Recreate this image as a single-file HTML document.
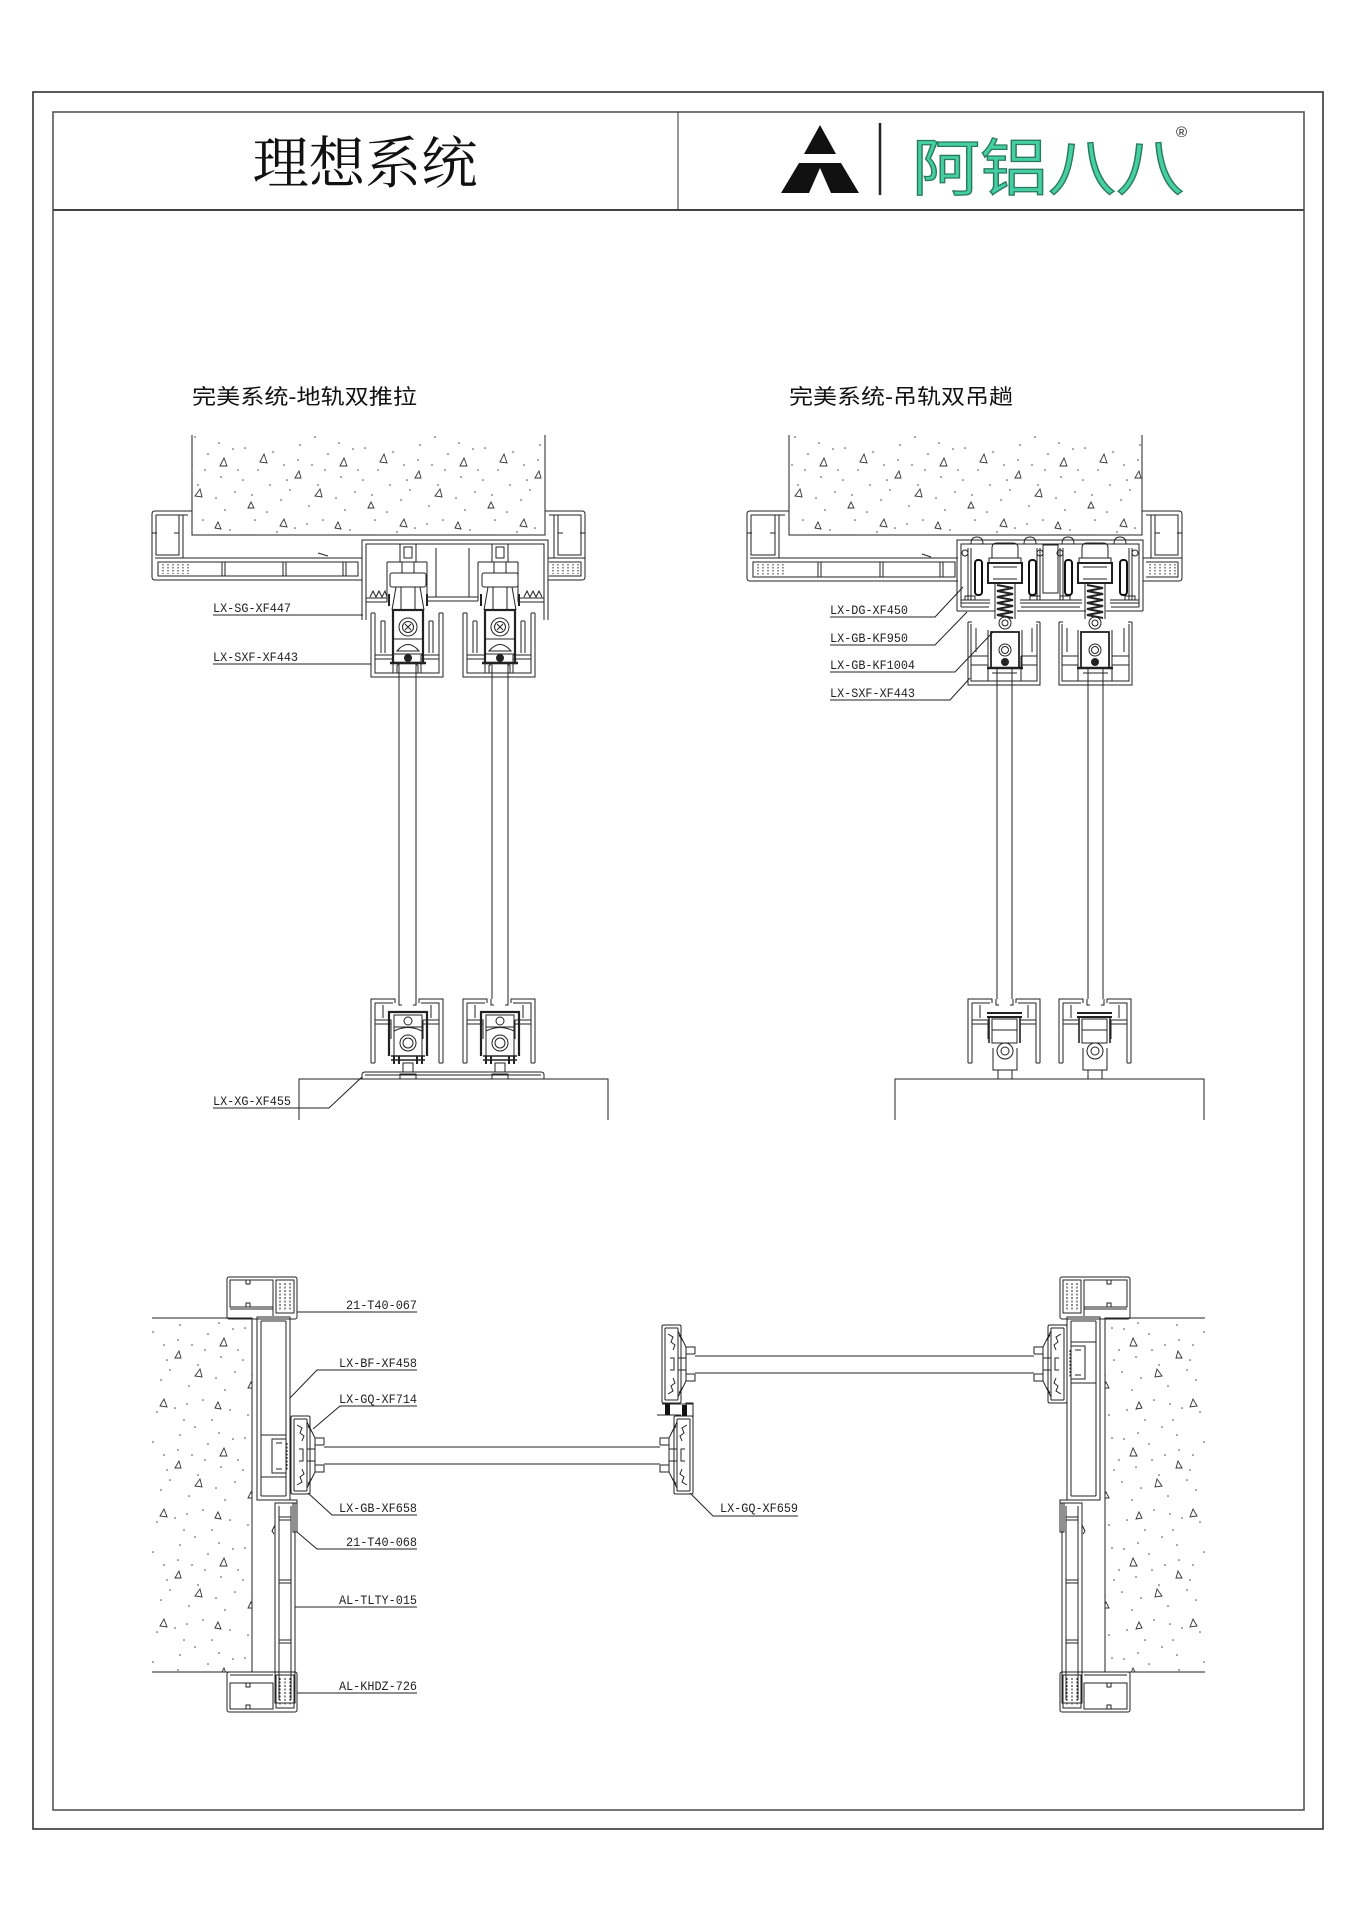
<!DOCTYPE html>
<html><head><meta charset="utf-8">
<style>
html,body{margin:0;padding:0;background:#fff;}
svg{display:block;}
.lb{font-family:"Liberation Mono",monospace;font-size:12.5px;fill:#222;}
.tt{font-family:"Liberation Sans","Noto Sans CJK SC",sans-serif;font-size:21px;fill:#111;}
</style></head>
<body>
<svg width="1357" height="1920" viewBox="0 0 1357 1920" xmlns="http://www.w3.org/2000/svg">
<defs>
<pattern id="hatch" width="120" height="110" patternUnits="userSpaceOnUse">
 <g fill="#444">
  <circle cx="5" cy="8" r="0.8"/><circle cx="18" cy="30" r="0.8"/><circle cx="33" cy="12" r="0.8"/>
  <circle cx="47" cy="40" r="0.8"/><circle cx="60" cy="5" r="0.8"/><circle cx="72" cy="25" r="0.8"/>
  <circle cx="88" cy="14" r="0.8"/><circle cx="101" cy="37" r="0.8"/><circle cx="113" cy="9" r="0.8"/>
  <circle cx="12" cy="55" r="0.8"/><circle cx="27" cy="72" r="0.8"/><circle cx="41" cy="60" r="0.8"/>
  <circle cx="55" cy="88" r="0.8"/><circle cx="69" cy="66" r="0.8"/><circle cx="83" cy="80" r="0.8"/>
  <circle cx="96" cy="58" r="0.8"/><circle cx="110" cy="90" r="0.8"/><circle cx="8" cy="95" r="0.8"/>
  <circle cx="22" cy="104" r="0.8"/><circle cx="37" cy="92" r="0.8"/><circle cx="50" cy="50" r="0.8"/>
  <circle cx="64" cy="100" r="0.8"/><circle cx="78" cy="45" r="0.8"/><circle cx="92" cy="100" r="0.8"/>
  <circle cx="105" cy="70" r="0.8"/><circle cx="115" cy="52" r="0.8"/><circle cx="30" cy="45" r="0.8"/>
  <circle cx="85" cy="30" r="0.8"/><circle cx="58" cy="20" r="0.8"/><circle cx="15" cy="80" r="0.8"/>
  <circle cx="3" cy="40" r="0.8"/><circle cx="44" cy="25" r="0.8"/><circle cx="67" cy="84" r="0.8"/>
  <circle cx="118" cy="30" r="0.8"/><circle cx="75" cy="107" r="0.8"/><circle cx="99" cy="3" r="0.8"/>
 </g>
 <g fill="none" stroke="#333" stroke-width="0.9">
  <path d="M20,22 l4,-8 l3,9 z"/><path d="M75,56 l5,-7 l2,8 z"/><path d="M40,86 l4,-7 l3,8 z"/>
  <path d="M100,26 l4,-8 l3,8 z"/><path d="M95,88 l3,-6 l3,7 z"/><path d="M55,38 l4,-7 l2,7 z"/>
  <path d="M8,68 l3,-6 l3,6 z"/>
 </g>
</pattern>

<g id="tlr" fill="none" stroke="#222" stroke-width="1">
 <rect x="-8" y="544" width="16" height="18"/>
 <rect x="-4" y="547" width="8" height="11"/>
 <rect x="-18" y="573" width="36" height="14" rx="2"/>
 <path d="M-6,562 V573 M6,562 V573"/>
 <path d="M-12,587 L-16,610 M12,587 L16,610 M-7,587 V610 M7,587 V610"/>
 <path d="M-19,594 V606 M19,594 V606" stroke-width="2"/>
 <rect x="-15" y="610" width="30" height="53" stroke-width="2.2"/>
 <circle cx="0" cy="627" r="9"/>
 <circle cx="0" cy="627" r="5.5"/>
 <path d="M-3,624 L3,630 M3,624 L-3,630"/>
 <path d="M-15,639 H15"/>
 <path d="M-11,651 Q0,638 11,651 Z"/>
 <path d="M-15,654 H15"/>
 <circle cx="0" cy="658" r="3.5" fill="#222"/>
 <path d="M-18,663 H18" stroke-width="2.5"/>
</g>

<g id="sxf" fill="none" stroke="#222" stroke-width="1">
 <path d="M0,0 V64 H72 V0 M4,0 V60 H68 V0 M0,0 H4 M68,0 H72"/>
 <path d="M4,42 H22 M50,42 H68 M4,46 H22 M50,46 H68"/>
 <path d="M10,8 V40 M14,8 V40 M10,8 H14 M58,8 V40 M62,8 V40 M58,8 H62"/>
 <path d="M22,42 V60 M50,42 V60"/>
 <path d="M26,52 H28 M45,52 H47 M26,52 V60 M47,52 V60"/>
</g>

<g id="sbf" fill="none" stroke="#222" stroke-width="1">
 <path d="M0,64 V0 H24 V4 M4,64 V4 H22 M72,64 V0 H48 V4 M68,64 V4 H50"/>
 <path d="M4,21 H20 V25 H4 M52,21 H68 M52,25 H68 M52,21 V25"/>
 <path d="M12,6 V19 M60,6 V19"/>
 <path d="M28,0 V6 H31 M45,0 V6 H42"/>
 <path d="M20,25 V40 M52,25 V40"/>
 <path d="M0,64 H4 M68,64 H72"/>
</g>

<g id="blr" fill="none" stroke="#222" stroke-width="1">
 <path d="M-19,1056 V1012 H19 V1056" stroke-width="2.2"/>
 <rect x="-14" y="1015" width="28" height="12"/>
 <circle cx="0" cy="1021" r="4"/>
 <path d="M-14,1031 Q0,1024 14,1031"/>
 <path d="M-14,1027 V1056 M14,1027 V1056"/>
 <circle cx="0" cy="1043" r="8"/><circle cx="0" cy="1043" r="5"/>
 <path d="M-17,1056 H17 M-17,1060 H17" stroke-width="1.6"/>
 <path d="M-14,1056 v8 M-9,1056 v8 M9,1056 v8 M14,1056 v8" stroke-width="2"/>
 <rect x="-5" y="1063" width="10" height="9"/>
</g>

<g id="hgt" fill="none" stroke="#222" stroke-width="1">
 <path d="M-13,558 V548 Q-13,543 -8,543 H8 Q13,543 13,548 V558 Z"/>
 <rect x="-16" y="558" width="32" height="5"/>
 <rect x="-17" y="563" width="34" height="20" stroke-width="2"/>
 <path d="M-12,567 H12 M-12,579 H12"/>
 <path d="M-8,585 L8,588 L-8,591 L8,594 L-8,597 L8,600 L-8,603 L8,606 L-8,609 L8,612 L-8,615 L8,618" stroke-width="2"/>
 <path d="M-10,583 V619 M10,583 V619"/>
 <circle cx="0" cy="623" r="6"/><circle cx="0" cy="623" r="3"/>
 <rect x="-14" y="632" width="28" height="36" stroke-width="1.8"/>
 <path d="M-17,630 V668 M17,630 V668"/>
 <circle cx="0" cy="650" r="6"/><circle cx="0" cy="650" r="3.5"/>
 <circle cx="0" cy="662" r="3.5" fill="#222"/>
 <path d="M-18,668 H18" stroke-width="2.5"/>
</g>

<g id="bhr" fill="none" stroke="#222" stroke-width="1">
 <path d="M-18,1013 H17 M-18,1017 H17" stroke-width="2"/>
 <path d="M-16,1017 V1043 M15,1017 V1043" stroke-width="1.6"/>
 <rect x="-13" y="1019" width="25" height="24"/>
 <path d="M-13,1030 H12"/>
 <circle cx="0" cy="1051" r="8"/><circle cx="0" cy="1051" r="4"/>
 <path d="M-12,1048 V1070 H12 V1048"/>
 <rect x="-7" y="1070" width="14" height="9"/>
</g>

<g id="gq" fill="none" stroke="#222" stroke-width="1">
 <rect x="0" y="0" width="19" height="78" rx="1.5"/>
 <path d="M3,3 V75 M16,3 V75 M3,3 H16 M3,75 H16"/>
 <path d="M16,6 L24,22 V29 M16,72 L24,56 V49"/>
 <path d="M24,22 H33 V29 M24,56 H33 V49 M24,29 H33 M24,49 H33"/>
 <path d="M16,33 H24 M16,45 H24 M24,29 V49"/>
 <path d="M6,9 l5,3 l-2,5 l4,3 l-2,5 M6,69 l5,-3 l-2,-5 l4,-3 l-2,-5"/>
 <path d="M8,33 H12 V45 H8"/>
 <path d="M17,10 l3,5 M17,68 l3,-5"/>
</g>
</defs>

<!-- ========== FRAME & HEADER ========== -->
<g fill="none">
 <rect x="33" y="92" width="1290" height="1737" stroke="#333" stroke-width="1.6"/>
 <rect x="53" y="112" width="1251" height="1698" stroke="#555" stroke-width="1.6"/>
 <path d="M53,210 H1304" stroke="#444" stroke-width="2"/>
 <path d="M678,112 V210" stroke="#333" stroke-width="1"/>
</g>
<text x="365" y="183" text-anchor="middle" textLength="225" lengthAdjust="spacingAndGlyphs" style="font-family:'Liberation Serif','Noto Serif CJK SC',serif;font-size:56px;fill:#111;">理想系统</text>
<!-- logo -->
<polygon points="820,125 836,154 804,154" fill="#111"/>
<polygon points="799,163 841,163 859,193 831,193 820,168 809,193 781,193" fill="#111"/>
<path d="M880,123 V195" stroke="#222" stroke-width="2.5"/>
<text x="912" y="190" textLength="272" lengthAdjust="spacingAndGlyphs" style="font-family:'Liberation Sans','Noto Sans CJK SC',sans-serif;font-weight:400;font-size:62px;fill:#45cfa3;stroke:#2a7a5e;stroke-width:1.3;">阿铝八八</text>
<text x="1176" y="137" style="font-family:'Liberation Sans',sans-serif;font-size:15px;fill:#222;">®</text>

<!-- ========== SECTION TITLES ========== -->
<text class="tt" x="192" y="404" textLength="225" lengthAdjust="spacingAndGlyphs">完美系统-地轨双推拉</text>
<text class="tt" x="789" y="404" textLength="224" lengthAdjust="spacingAndGlyphs">完美系统-吊轨双吊趟</text>

<!-- ========== TOP-LEFT DIAGRAM ========== -->
<g fill="none" stroke="#222" stroke-width="1">
 <rect x="192" y="435" width="353" height="100" fill="url(#hatch)" stroke="none"/>
 <path d="M192,435 V535 H545 V435"/>
 <path d="M192,511 H155 Q152,511 152,514 V577 Q152,580 155,580 H362"/>
 <path d="M156,515 H188 M156,515 V555 H179 V515 M183,515 V558"/>
 <path d="M152,533 H157 M174,533 H179"/>
 <path d="M155,558 H362 M158,562 H358 V576 H158 Z"/>
 <path d="M222,562 V576 M225,562 V576 M283,562 V576 M286,562 V576 M343,562 V576 M346,562 V576"/>
 <path d="M163,564 V574 M168,564 V574 M173,564 V574 M178,564 V574 M183,564 V574 M188,564 V574" stroke-dasharray="1.5,1.5"/>
 <path d="M318,553 l10,3"/>
 <path d="M545,511 H582 Q585,511 585,514 V577 Q585,580 582,580 H548"/>
 <path d="M549,515 H581 V555 H558 V515 M554,515 V558"/>
 <path d="M580,533 H585 M558,533 H563"/>
 <path d="M548,558 H585 M549,562 H581 V576 H549"/>
 <path d="M553,564 V574 M558,564 V574 M563,564 V574 M568,564 V574 M573,564 V574 M578,564 V574" stroke-dasharray="1.5,1.5"/>
 <path d="M362,620 V540 H548 V620 M366,620 V544 H544 V620"/>
 <path d="M366,598 H387 M366,602 H387 M427,597 H478 M427,601 H478 M518,598 H544 M518,602 H544"/>
 <path d="M387,562 V602 M427,562 V601 M478,562 V601 M518,562 V602"/>
 <path d="M387,562 H400 M416,562 H427 M478,562 H492 M508,562 H518"/>
 <path d="M370,597 l3,-6 l3,6 l3,-6 l3,6 l3,-6 l2,6 M524,597 l3,-6 l3,6 l3,-6 l3,6 l3,-6 l3,6"/>
 <path d="M436,548 V597 M469,548 V597"/>
</g>
<use href="#tlr" transform="translate(408,0)"/>
<use href="#tlr" transform="translate(500,0)"/>
<use href="#sxf" x="371" y="613"/>
<use href="#sxf" x="463" y="613"/>
<g fill="none" stroke="#222" stroke-width="1">
 <path d="M399,663 V999 M416,663 V999 M492,663 V999 M508,663 V999"/>
 <path d="M394,673 H421 M486,673 H513"/>
</g>
<use href="#sbf" x="371" y="999"/>
<use href="#sbf" x="463" y="999"/>
<use href="#blr" transform="translate(408,0)"/>
<use href="#blr" transform="translate(500,0)"/>
<g fill="none" stroke="#222" stroke-width="1">
 <path d="M365,1072 H541 Q544,1072 544,1075 V1079 M362,1079 V1075 Q362,1072 365,1072 M365,1075 H541"/>
 <rect x="400" y="1074" width="16" height="5"/>
 <rect x="492" y="1074" width="16" height="5"/>
 <path d="M299,1120 V1079 H608 V1120"/>
</g>
<g fill="none" stroke="#222" stroke-width="1">
 <path d="M213,615 H363"/>
 <path d="M213,664 H371"/>
 <path d="M213,1108 H329 L362,1077"/>
</g>
<text class="lb" x="213" y="612" textLength="78" lengthAdjust="spacingAndGlyphs">LX-SG-XF447</text>
<text class="lb" x="213" y="661" textLength="85" lengthAdjust="spacingAndGlyphs">LX-SXF-XF443</text>
<text class="lb" x="213" y="1105" textLength="78" lengthAdjust="spacingAndGlyphs">LX-XG-XF455</text>

<!-- ========== TOP-RIGHT DIAGRAM ========== -->
<g fill="none" stroke="#222" stroke-width="1">
 <rect x="789" y="435" width="353" height="100" fill="url(#hatch)" stroke="none"/>
 <path d="M789,435 V535 H1142 V435"/>
 <path d="M789,511 H750 Q747,511 747,514 V578 Q747,581 750,581 H958"/>
 <path d="M751,515 H785 M751,515 V555 H775 V515 M779,515 V558"/>
 <path d="M747,533 H752 M770,533 H775"/>
 <path d="M750,558 H958 M753,562 H955 V577 H753 Z"/>
 <path d="M818,562 V577 M821,562 V577 M880,562 V577 M883,562 V577 M940,562 V577 M943,562 V577"/>
 <path d="M758,564 V575 M763,564 V575 M768,564 V575 M773,564 V575 M778,564 V575 M783,564 V575" stroke-dasharray="1.5,1.5"/>
 <path d="M922,554 l9,3"/>
 <path d="M1142,511 H1179 Q1182,511 1182,514 V578 Q1182,581 1179,581 H1143"/>
 <path d="M1146,515 H1178 V555 H1155 V515 M1151,515 V558"/>
 <path d="M1177,533 H1182 M1155,533 H1160"/>
 <path d="M1143,558 H1182 M1146,562 H1178 V577 H1146"/>
 <path d="M1150,564 V575 M1155,564 V575 M1160,564 V575 M1165,564 V575 M1170,564 V575 M1175,564 V575" stroke-dasharray="1.5,1.5"/>
 <path d="M957,611 V540 H1143 V611 M961,607 V544 H1139 V607"/>
 <path d="M957,611 H995 M1017,611 H1086 M1106,611 H1143 M961,607 H989 M1021,607 H1080 M1111,607 H1139"/>
 <path d="M971,544 Q971,537 977,537 Q983,537 983,544 M1024,544 Q1024,537 1030,537 Q1036,537 1036,544 M1062,544 Q1062,537 1068,537 Q1074,537 1074,544 M1114,544 Q1114,537 1120,537 Q1126,537 1126,544"/>
 <path d="M968,548 V600 M971,548 V600 M1037,548 V600 M1040,548 V600 M1060,548 V600 M1063,548 V600 M1129,548 V600 M1132,548 V600"/>
 <rect x="1043" y="545" width="15" height="48"/>
 <path d="M961,600 H990 M1020,600 H1082 M1110,600 H1139 M961,603 H990 M1020,603 H1082 M1110,603 H1139"/>
 <path d="M965,600 V596 H975 V600 M1030,600 V596 H1040 V600 M1060,600 V596 H1070 V600 M1125,600 V596 H1135 V600"/>
 <circle cx="965" cy="553" r="3"/><circle cx="1135" cy="553" r="3"/>
 <circle cx="1040" cy="553" r="3"/><circle cx="1060" cy="553" r="3"/>
</g>
<g fill="none" stroke="#111" stroke-width="2">
 <rect x="975" y="560" width="7" height="35" rx="3"/>
 <rect x="1029" y="560" width="7" height="35" rx="3"/>
 <rect x="1065" y="560" width="7" height="35" rx="3"/>
 <rect x="1120" y="560" width="7" height="35" rx="3"/>
</g>
<use href="#hgt" transform="translate(1005,0)"/>
<use href="#hgt" transform="translate(1095,0)"/>
<g fill="none" stroke="#222" stroke-width="1">
 <path d="M968,622 V685 H1040 V622 M971,624 V681 H1037 V624 M968,622 H972 M1036,622 H1040"/>
 <path d="M971,656 H988 M1021,656 H1037 M971,665 H988 M1021,665 H1037 M988,656 V681 M1021,656 V681"/>
 <path d="M976,628 V652 M1032,628 V652"/>
 <path d="M1059,622 V685 H1132 V622 M1062,624 V681 H1129 V624 M1059,622 H1063 M1128,622 H1132"/>
 <path d="M1062,656 H1078 M1112,656 H1129 M1062,665 H1078 M1112,665 H1129 M1078,656 V681 M1112,656 V681"/>
 <path d="M1067,628 V652 M1124,628 V652"/>
 <path d="M997,668 V999 M1012,668 V999 M1088,668 V999 M1103,668 V999"/>
 <path d="M992,673 H1017 M1083,673 H1108"/>
</g>
<use href="#sbf" x="968" y="999"/>
<use href="#sbf" x="1059" y="999"/>
<use href="#bhr" transform="translate(1005,0)"/>
<use href="#bhr" transform="translate(1095,0)"/>
<g fill="none" stroke="#222" stroke-width="1">
 <path d="M895,1120 V1079 H1204 V1120"/>
 <path d="M830,617 H935 L963,587"/>
 <path d="M830,645 H935 L967,612"/>
 <path d="M830,672 H955 L993,632"/>
 <path d="M830,700 H950 L970,678"/>
</g>
<text class="lb" x="830" y="614" textLength="78" lengthAdjust="spacingAndGlyphs">LX-DG-XF450</text>
<text class="lb" x="830" y="642" textLength="78" lengthAdjust="spacingAndGlyphs">LX-GB-KF950</text>
<text class="lb" x="830" y="669" textLength="85" lengthAdjust="spacingAndGlyphs">LX-GB-KF1004</text>
<text class="lb" x="830" y="697" textLength="85" lengthAdjust="spacingAndGlyphs">LX-SXF-XF443</text>

<!-- ========== PLAN VIEW ========== -->
<g id="jambL" fill="none" stroke="#222" stroke-width="1">
 <rect x="152" y="1318" width="100" height="354" fill="url(#hatch)" stroke="none"/>
 <path d="M152,1318 H252 V1672 H152"/>
 <rect x="227" y="1277" width="70" height="42" rx="2"/>
 <rect x="230" y="1280" width="43" height="27"/>
 <path d="M230,1309 H273 M273,1280 V1316"/>
 <path d="M246,1280 v4 h4 v-4 M246,1307 v-4 h4 v4"/>
 <rect x="276" y="1280" width="18" height="33"/>
 <path d="M280,1283 V1310 M285,1283 V1310 M290,1283 V1310" stroke-dasharray="2,1.5"/>
 <rect x="275" y="1503" width="20" height="200"/>
 <path d="M279,1506 V1700 M291,1506 V1700"/>
 <path d="M279,1517 H291 M279,1520 H291 M279,1580 H291 M279,1583 H291 M279,1640 H291 M279,1643 H291"/>
 <path d="M275,1525 l-3,6 l2,3"/>
 <rect x="293" y="1503" width="4" height="29"/>
 <rect x="227" y="1672" width="70" height="40" rx="2"/>
 <path d="M230,1675 H273 M230,1683 H273 V1709 H230 Z"/>
 <path d="M246,1683 v4 h4 v-4 M246,1709 v-4 h4 v4"/>
 <rect x="276" y="1675" width="18" height="33"/>
 <path d="M280,1678 V1705 M285,1678 V1705 M290,1678 V1705" stroke-dasharray="2,1.5"/>
 <rect x="257" y="1317" width="33" height="183"/>
 <path d="M261,1321 V1496 M286,1321 V1496 M261,1321 H286 M261,1496 H286"/>
 <path d="M257,1500 H297 V1503"/>
</g>
<use href="#jambL" transform="translate(1357,0) scale(-1,1)"/>
<g fill="none" stroke="#222" stroke-width="1">
 <path d="M261,1435 H286 M261,1477 H286"/>
 <path d="M286,1439 H272 V1473 H286 M276,1443 H282 M276,1469 H282"/>
 <path d="M1071,1342 H1096 M1071,1383 H1096"/>
 <path d="M1071,1346 H1085 V1379 H1071 M1075,1350 H1081 M1075,1375 H1081"/>
 <path d="M1070,1350 V1378" stroke-dasharray="2,1.5"/>
 <path d="M287,1443 V1471" stroke-dasharray="2,1.5"/>
</g>
<use href="#gq" x="291" y="1416"/>
<use href="#gq" transform="translate(693,1416) scale(-1,1)"/>
<use href="#gq" x="662" y="1325"/>
<use href="#gq" transform="translate(1067,1325) scale(-1,1)"/>
<g fill="none" stroke="#222" stroke-width="1">
 <path d="M324,1447 H660 M324,1464 H660"/>
 <path d="M695,1356 H1034 M695,1373 H1034"/>
 <path d="M662,1404 H693 M657,1415 H681"/>
 <rect x="686" y="1403" width="7" height="13"/>
</g>
<rect x="665" y="1404" width="5" height="11" fill="#111"/>
<rect x="682" y="1405" width="5" height="11" fill="#111"/>
<g fill="none" stroke="#222" stroke-width="1">
 <path d="M297,1312 H417"/>
 <path d="M290,1398 L317,1370 H417"/>
 <path d="M313,1429 L340,1406 H417"/>
 <path d="M308,1493 L332,1515 H417"/>
 <path d="M297,1532 L317,1549 H417"/>
 <path d="M295,1607 H417"/>
 <path d="M297,1693 H417"/>
 <path d="M690,1493 L713,1516 H798"/>
</g>
<text class="lb" x="417" y="1309" text-anchor="end" textLength="71" lengthAdjust="spacingAndGlyphs">21-T40-067</text>
<text class="lb" x="417" y="1367" text-anchor="end" textLength="78" lengthAdjust="spacingAndGlyphs">LX-BF-XF458</text>
<text class="lb" x="417" y="1403" text-anchor="end" textLength="78" lengthAdjust="spacingAndGlyphs">LX-GQ-XF714</text>
<text class="lb" x="417" y="1512" text-anchor="end" textLength="78" lengthAdjust="spacingAndGlyphs">LX-GB-XF658</text>
<text class="lb" x="417" y="1546" text-anchor="end" textLength="71" lengthAdjust="spacingAndGlyphs">21-T40-068</text>
<text class="lb" x="417" y="1604" text-anchor="end" textLength="78" lengthAdjust="spacingAndGlyphs">AL-TLTY-015</text>
<text class="lb" x="417" y="1690" text-anchor="end" textLength="78" lengthAdjust="spacingAndGlyphs">AL-KHDZ-726</text>
<text class="lb" x="720" y="1512" textLength="78" lengthAdjust="spacingAndGlyphs">LX-GQ-XF659</text>
</svg>
</body></html>
